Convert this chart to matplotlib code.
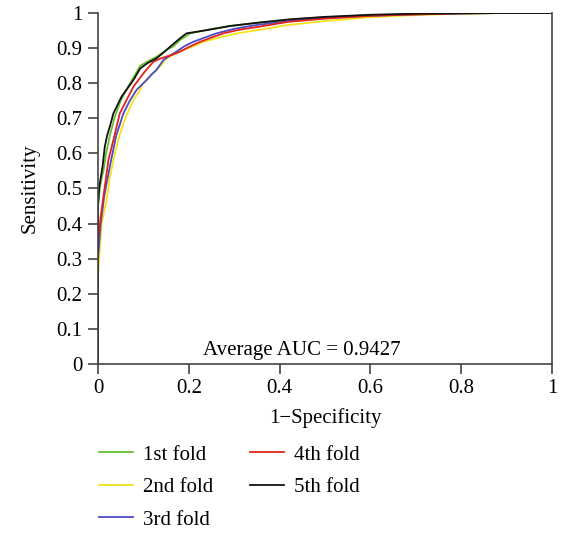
import matplotlib
matplotlib.use('Agg')
import matplotlib.pyplot as plt

# ROC curves for 5-fold cross validation
fold_names = ['1st fold', '2nd fold', '3rd fold', '4th fold', '5th fold']
fold_colors = ['#66c02e', '#f5e21a', '#4b4bc8', '#e2231a', '#111111']

fpr_1 = [0, 0, 0.004, 0.008, 0.012, 0.018, 0.026, 0.036, 0.05, 0.066, 0.08, 0.093, 0.104,
         0.115, 0.13, 0.151, 0.166, 0.181, 0.203, 0.24, 0.29, 0.35, 0.42, 0.5, 0.6, 0.7, 0.8, 0.9, 1.0]
tpr_1 = [0, 0.45, 0.5, 0.53, 0.55, 0.6, 0.65, 0.7, 0.75, 0.79, 0.82, 0.85, 0.858,
         0.866, 0.876, 0.895, 0.905, 0.923, 0.942, 0.952, 0.963, 0.972, 0.981, 0.988, 0.994, 0.997, 0.999, 1.0, 1.0]

fpr_2 = [0, 0, 0.008, 0.019, 0.026, 0.034, 0.045, 0.056, 0.067, 0.078, 0.09, 0.1, 0.115,
         0.129, 0.14, 0.151, 0.17, 0.188, 0.21, 0.232, 0.255, 0.276, 0.31, 0.35, 0.42, 0.5, 0.6, 0.7, 0.8, 0.9, 1.0]
tpr_2 = [0, 0.25, 0.4, 0.467, 0.53, 0.581, 0.64, 0.686, 0.72, 0.752, 0.775, 0.8, 0.82,
         0.838, 0.852, 0.871, 0.884, 0.895, 0.905, 0.918, 0.926, 0.933, 0.943, 0.951, 0.966, 0.977, 0.988, 0.994, 0.998, 1.0, 1.0]

fpr_3 = [0, 0, 0.006, 0.014, 0.026, 0.04, 0.056, 0.07, 0.085, 0.096, 0.107, 0.118, 0.129,
         0.144, 0.158, 0.173, 0.19, 0.21, 0.235, 0.261, 0.3, 0.35, 0.42, 0.5, 0.6, 0.7, 0.8, 0.9, 1.0]
tpr_3 = [0, 0.3, 0.4, 0.48, 0.562, 0.65, 0.714, 0.75, 0.781, 0.795, 0.809, 0.825, 0.838,
         0.866, 0.878, 0.89, 0.905, 0.918, 0.93, 0.942, 0.955, 0.966, 0.977, 0.985, 0.992, 0.996, 0.999, 1.0, 1.0]

fpr_4 = [0, 0, 0.006, 0.012, 0.023, 0.034, 0.048, 0.063, 0.078, 0.1, 0.122, 0.137, 0.151,
         0.166, 0.181, 0.2, 0.225, 0.25, 0.276, 0.31, 0.35, 0.42, 0.5, 0.6, 0.7, 0.8, 0.9, 1.0]
tpr_4 = [0, 0.35, 0.42, 0.477, 0.581, 0.638, 0.714, 0.752, 0.79, 0.828, 0.861, 0.87, 0.876,
         0.882, 0.89, 0.903, 0.918, 0.93, 0.942, 0.952, 0.96, 0.975, 0.984, 0.992, 0.996, 0.999, 1.0, 1.0]

fpr_5 = [0, 0, 0.003, 0.006, 0.01, 0.015, 0.02, 0.026, 0.034, 0.052, 0.065, 0.078, 0.093,
         0.11, 0.129, 0.145, 0.159, 0.178, 0.195, 0.239, 0.291, 0.35, 0.423, 0.5, 0.6, 0.7, 0.8, 0.9, 1.0]
tpr_5 = [0, 0.45, 0.505, 0.53, 0.562, 0.619, 0.65, 0.676, 0.714, 0.762, 0.785, 0.809, 0.842,
         0.858, 0.871, 0.888, 0.904, 0.925, 0.942, 0.951, 0.963, 0.972, 0.982, 0.989, 0.995, 0.998, 0.999, 1.0, 1.0]

fprs = [fpr_1, fpr_2, fpr_3, fpr_4, fpr_5]
tprs = [tpr_1, tpr_2, tpr_3, tpr_4, tpr_5]

x_ticks = [0, 0.2, 0.4, 0.6, 0.8, 1.0]
x_tick_labels = ['0', '0.2', '0.4', '0.6', '0.8', '1']
y_ticks = [0, 0.1, 0.2, 0.3, 0.4, 0.5, 0.6, 0.7, 0.8, 0.9, 1.0]
y_tick_labels = ['0', '0.1', '0.2', '0.3', '0.4', '0.5', '0.6', '0.7', '0.8', '0.9', '1']
auc_text = 'Average AUC = 0.9427'

plt.rcParams['font.family'] = ['Liberation Serif', 'DejaVu Serif']
plt.rcParams['font.size'] = 15

fig = plt.figure(figsize=(5.67, 5.33), dpi=100)
ax = fig.add_axes([0.1728, 0.3171, 0.8007, 0.6585])

for fpr, tpr, name, col in zip(fprs, tprs, fold_names, fold_colors):
    ax.plot(fpr, tpr, color=col, lw=1.3, label=name)

ax.set_xlim(0, 1)
ax.set_ylim(0, 1)
ax.set_xticks(x_ticks)
ax.set_xticklabels(x_tick_labels)
ax.set_yticks(y_ticks)
ax.set_yticklabels(y_tick_labels)
ax.tick_params(direction='out', length=7, width=1.2, color='#444444', pad=4)
ax.spines['top'].set_visible(False)
for s in ['left', 'bottom', 'right']:
    ax.spines[s].set_color('#444444')
    ax.spines[s].set_linewidth(1.2)

ax.set_xlabel('1\u2212Specificity', labelpad=7)
ax.set_ylabel('Sensitivity', labelpad=12)
ax.text(0.45, 0.012, auc_text, ha='center', va='bottom')

fig.legend(loc='upper left', bbox_to_anchor=(0.1746, 0.165), ncol=2, frameon=False,
           handlelength=1.63, handletextpad=0.48, columnspacing=1.75, labelspacing=0.62,
           borderpad=0, borderaxespad=0)

fig.savefig('out.png', dpi=100)
